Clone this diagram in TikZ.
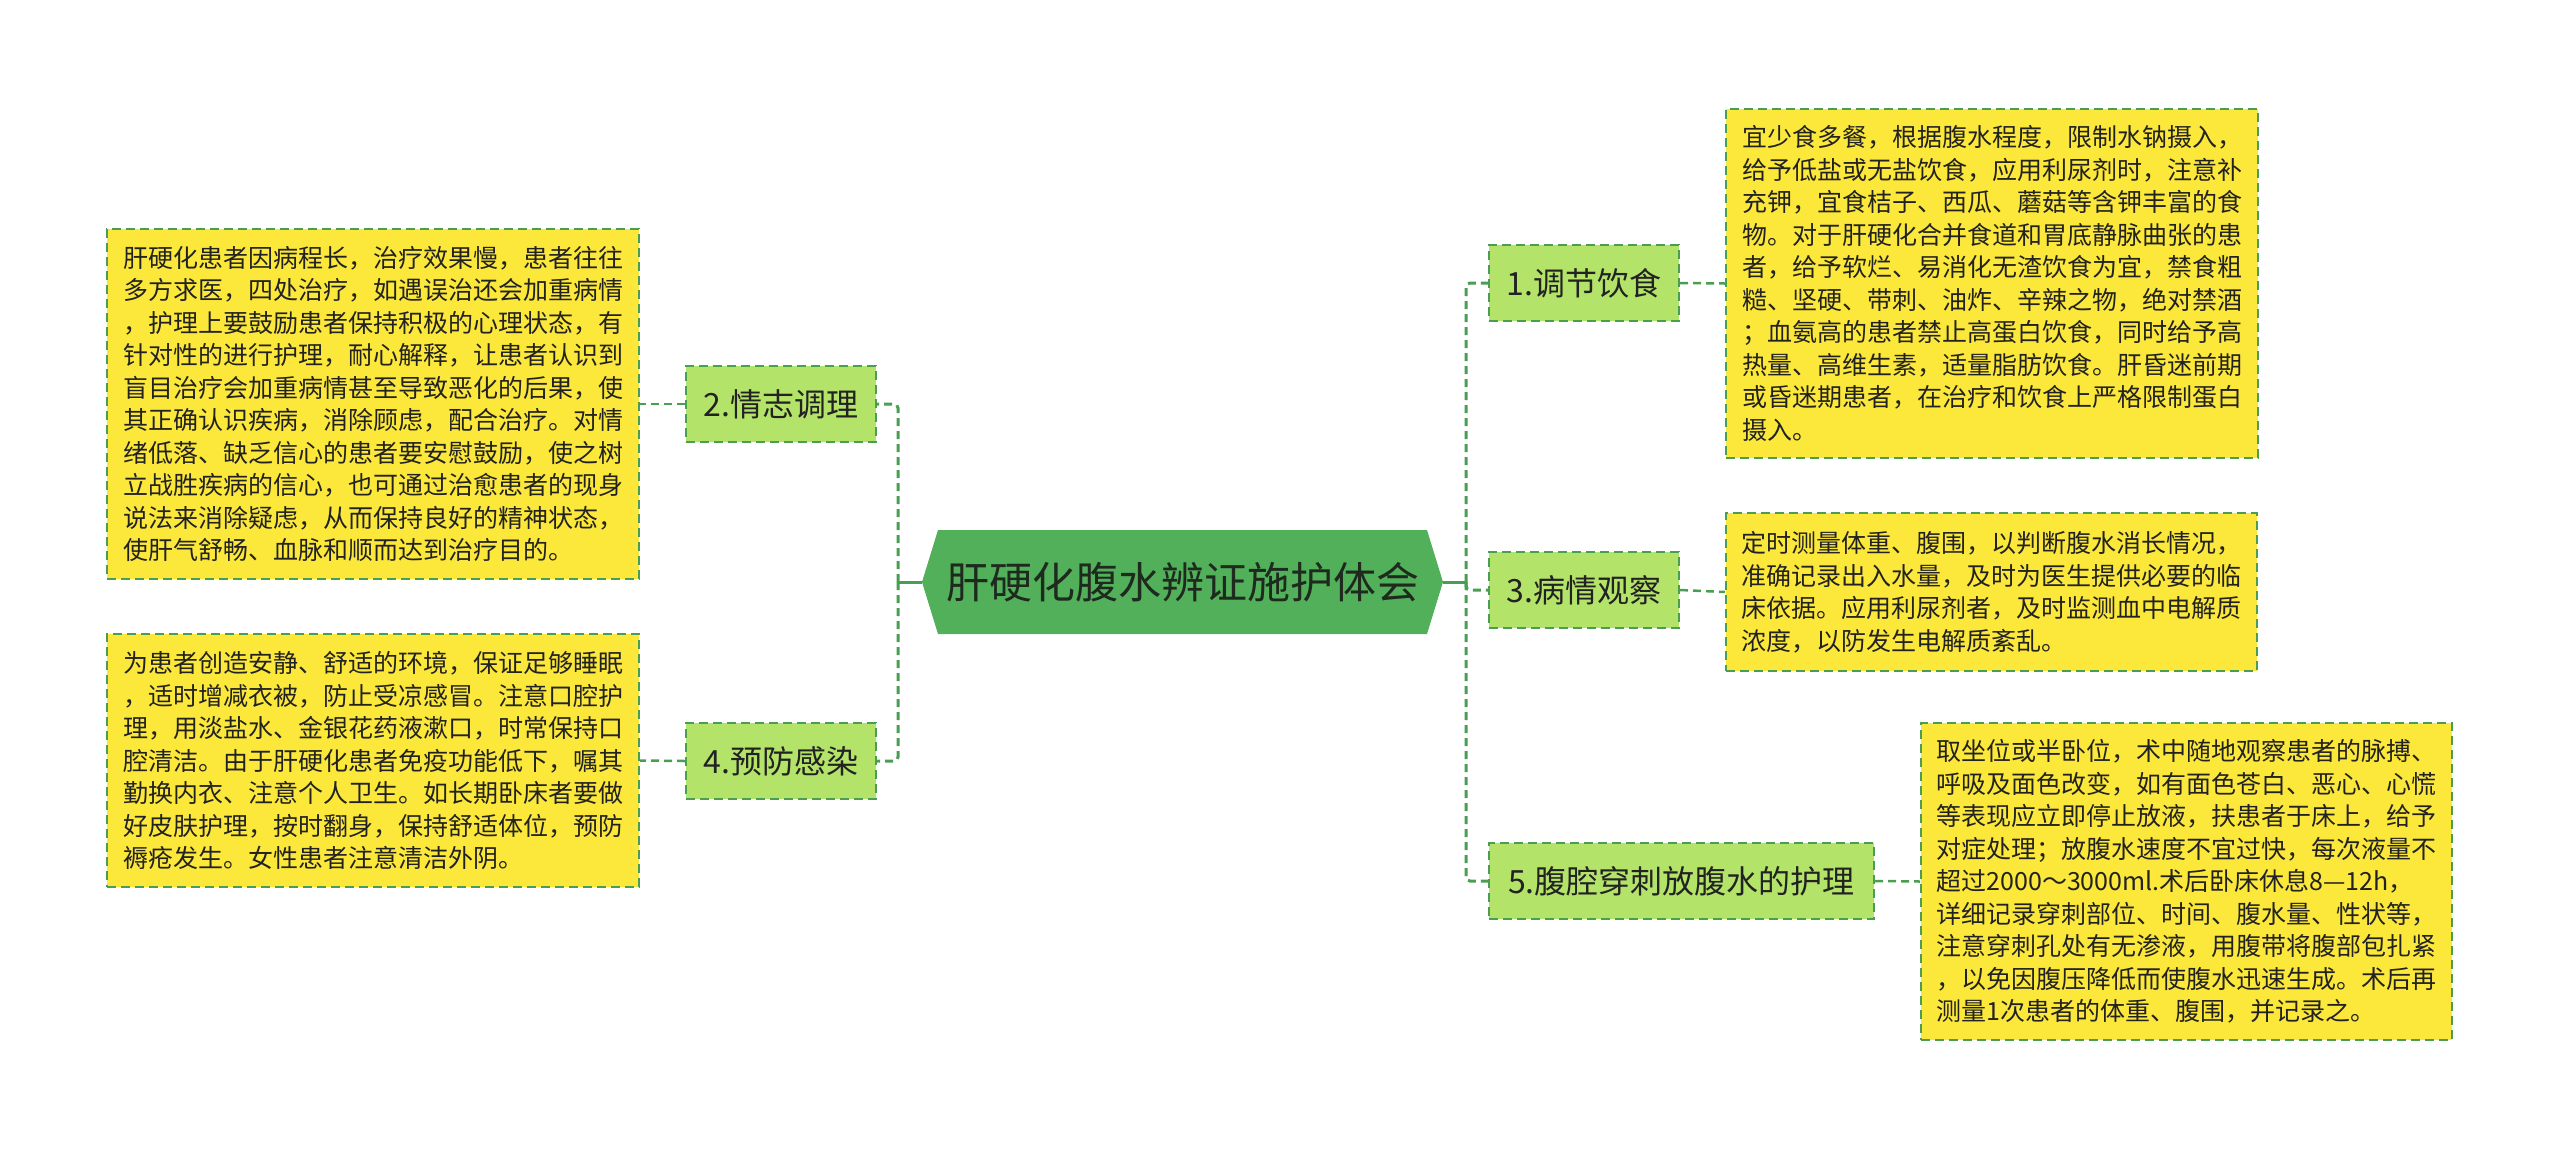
\documentclass[tikz,border=0pt]{standalone}
\usepackage{fontspec}
\newfontfamily\cjk{Noto Sans CJK SC}
\definecolor{lineg}{HTML}{4A9E52}
\definecolor{yel}{HTML}{FCE83A}
\definecolor{lgreen}{HTML}{B4E36A}
\definecolor{cgreen}{HTML}{52AF5A}
\definecolor{txt}{HTML}{222222}
\definecolor{ctxt}{HTML}{1E2A1E}
\begin{document}
\begin{tikzpicture}[x=1pt,y=-1pt,
  ybox/.style={draw=lineg, fill=yel, dash pattern=on 9pt off 5pt, line width=2pt,
    inner sep=0pt, font=\cjk\fontsize{25}{32.5}\selectfont, text=txt, align=left},
  gbox/.style={draw=lineg, fill=lgreen, dash pattern=on 9pt off 5pt, line width=2pt,
    inner sep=0pt, minimum height=76pt, font=\cjk\fontsize{32}{38}\selectfont, text=txt},
  conn/.style={draw=lineg, line width=3pt, dash pattern=on 8pt off 5pt},
  sconn/.style={draw=lineg, line width=3pt}
]
\useasboundingbox (0,0) rectangle (2560,1149);

% central hexagon
\fill[cgreen] (922,582) -- (938,530) -- (1427,530) -- (1443,582) -- (1427,634) -- (938,634) -- cycle;
\node[inner sep=0pt, minimum width=521pt, minimum height=104pt, font=\cjk\fontsize{43}{50}\selectfont, text=ctxt] (c) at (1182.5,582) {肝硬化腹水辨证施护体会};

% branch nodes
\node[gbox, minimum width=190pt] (b2) at (781,404) {2.情志调理};
\node[gbox, minimum width=190pt] (b4) at (781,761) {4.预防感染};
\node[gbox, minimum width=190pt] (b1) at (1584,283) {1.调节饮食};
\node[gbox, minimum width=190pt] (b3) at (1584,590) {3.病情观察};
\node[gbox, minimum width=385pt] (b5) at (1681.5,881) {5.腹腔穿刺放腹水的护理};

% text boxes
\node[ybox, minimum width=532pt, minimum height=350pt] (t2) at (373,404) {肝硬化患者因病程长，治疗效果慢，患者往往\\多方求医，四处治疗，如遇误治还会加重病情\\，护理上要鼓励患者保持积极的心理状态，有\\针对性的进行护理，耐心解释，让患者认识到\\盲目治疗会加重病情甚至导致恶化的后果，使\\其正确认识疾病，消除顾虑，配合治疗。对情\\绪低落、缺乏信心的患者要安慰鼓励，使之树\\立战胜疾病的信心，也可通过治愈患者的现身\\说法来消除疑虑，从而保持良好的精神状态，\\使肝气舒畅、血脉和顺而达到治疗目的。};

\node[ybox, minimum width=532pt, minimum height=253pt] (t4) at (373,760.5) {为患者创造安静、舒适的环境，保证足够睡眠\\，适时增减衣被，防止受凉感冒。注意口腔护\\理，用淡盐水、金银花药液漱口，时常保持口\\腔清洁。由于肝硬化患者免疫功能低下，嘱其\\勤换内衣、注意个人卫生。如长期卧床者要做\\好皮肤护理，按时翻身，保持舒适体位，预防\\褥疮发生。女性患者注意清洁外阴。};

\node[ybox, minimum width=532pt, minimum height=349pt] (t1) at (1992,283.5) {宜少食多餐，根据腹水程度，限制水钠摄入，\\给予低盐或无盐饮食，应用利尿剂时，注意补\\充钾，宜食桔子、西瓜、蘑菇等含钾丰富的食\\物。对于肝硬化合并食道和胃底静脉曲张的患\\者，给予软烂、易消化无渣饮食为宜，禁食粗\\糙、坚硬、带刺、油炸、辛辣之物，绝对禁酒\\；血氨高的患者禁止高蛋白饮食，同时给予高\\热量、高维生素，适量脂肪饮食。肝昏迷前期\\或昏迷期患者，在治疗和饮食上严格限制蛋白\\摄入。};

\node[ybox, minimum width=531pt, minimum height=158pt] (t3) at (1991.5,592) {定时测量体重、腹围，以判断腹水消长情况，\\准确记录出入水量，及时为医生提供必要的临\\床依据。应用利尿剂者，及时监测血中电解质\\浓度，以防发生电解质紊乱。};

\node[ybox, minimum width=531pt, minimum height=317pt] (t5) at (2186.5,881.5) {取坐位或半卧位，术中随地观察患者的脉搏、\\呼吸及面色改变，如有面色苍白、恶心、心慌\\等表现应立即停止放液，扶患者于床上，给予\\对症处理；放腹水速度不宜过快，每次液量不\\超过2000～3000ml.术后卧床休息8—12h，\\详细记录穿刺部位、时间、腹水量、性状等，\\注意穿刺孔处有无渗液，用腹带将腹部包扎紧\\，以免因腹压降低而使腹水迅速生成。术后再\\测量1次患者的体重、腹围，并记录之。};

% connectors
\coordinate (lj) at (898,582);
\coordinate (rj) at (1466,582);
\draw[sconn] (c.west) -- (lj);
\draw[sconn] (c.east) -- (rj);
\draw[conn, rounded corners=4pt] (lj) |- (b2.east);
\draw[conn, rounded corners=4pt] (lj) |- (b4.east);
\draw[conn, rounded corners=4pt] (rj) |- (b1.west);
\draw[conn, rounded corners=4pt] (rj) |- (b3.west);
\draw[conn, rounded corners=4pt] (rj) |- (b5.west);
\draw[conn, line width=2.5pt] (b2.west) -- (t2.east);
\draw[conn, line width=2.5pt] (b4.west) -- (t4.east);
\draw[conn, line width=2.5pt] (b1.east) -- (t1.west);
\draw[conn, line width=2.5pt] (b3.east) -- (t3.west);
\draw[conn, line width=2.5pt] (b5.east) -- (t5.west);
\end{tikzpicture}
\end{document}
